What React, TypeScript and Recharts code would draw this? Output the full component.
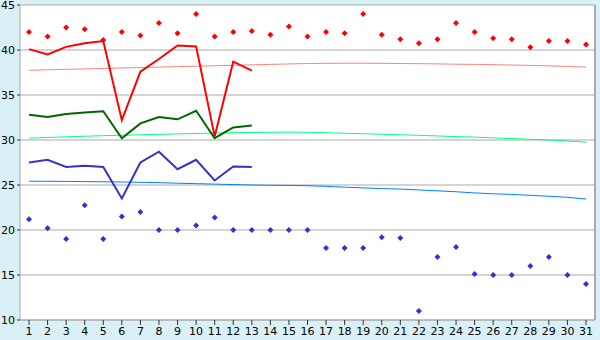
import { ComposedChart, Line, XAxis, YAxis, CartesianGrid } from "recharts";

const dias = Array.from({ length: 31 }, (_, i) => String(i + 1));

const maxPuntos = [42, 41.5, 42.5, 42.3, 41.1, 42, 41.6, 43, 41.85, 44, 41.5, 42, 42.1, 41.7, 42.6, 41.5, 42, 41.85, 44, 41.7, 41.2, 40.75, 41.2, 43, 42, 41.3, 41.2, 40.3, 41, 41, 40.6];
const minPuntos = [21.2, 20.2, 19, 22.75, 19, 21.5, 22, 20, 20, 20.5, 21.4, 20, 20, 20, 20, 20, 18, 18, 18, 19.2, 19.1, 11, 17, 18.1, 15.1, 15, 15, 16, 17, 15, 14];

const maxMes = [40.1, 39.5, 40.35, 40.75, 41, 32.2, 37.6, 39, 40.5, 40.4, 30.4, 38.7, 37.7];
const mediaMes = [32.8, 32.55, 32.9, 33.05, 33.2, 30.2, 31.85, 32.55, 32.3, 33.25, 30.2, 31.4, 31.6];
const minMes = [27.5, 27.8, 27, 27.15, 27, 23.5, 27.5, 28.7, 26.75, 27.8, 25.5, 27.05, 27];

const maxNormal = [37.74, 37.8, 37.85, 37.9, 37.95, 38, 38.05, 38.1, 38.15, 38.2, 38.25, 38.3, 38.35, 38.4, 38.45, 38.5, 38.52, 38.53, 38.53, 38.52, 38.5, 38.48, 38.46, 38.42, 38.4, 38.37, 38.33, 38.29, 38.23, 38.17, 38.1];
const mediaNormal = [30.2, 30.28, 30.35, 30.42, 30.48, 30.53, 30.58, 30.63, 30.68, 30.72, 30.77, 30.81, 30.84, 30.86, 30.87, 30.86, 30.8, 30.75, 30.7, 30.64, 30.58, 30.52, 30.45, 30.38, 30.32, 30.24, 30.16, 30.08, 30, 29.9, 29.75];
const minNormal = [25.42, 25.41, 25.4, 25.38, 25.36, 25.33, 25.3, 25.26, 25.2, 25.15, 25.1, 25.05, 25, 24.97, 24.95, 24.92, 24.85, 24.76, 24.68, 24.6, 24.55, 24.45, 24.35, 24.25, 24.12, 24.02, 23.95, 23.85, 23.75, 23.63, 23.45];

const yTicks = [10, 15, 20, 25, 30, 35, 40, 45];

const datos = dias.map((d, i) => ({
  dia: d,
  maxP: maxPuntos[i],
  minP: minPuntos[i],
  maxM: maxMes[i],
  medM: mediaMes[i],
  minM: minMes[i],
  maxN: maxNormal[i],
  medN: mediaNormal[i],
  minN: minNormal[i],
}));

const rombo = (color: string) => (p: any) => {
  if (p.cx == null || p.cy == null) return <g key={p.index} />;
  const { cx, cy } = p;
  return (
    <path key={p.index}
      d={`M${cx},${cy - 3}L${cx + 3},${cy}L${cx},${cy + 3}L${cx - 3},${cy}Z`}
      fill={color} stroke="none" />
  );
};

const fuente = { fontFamily: "DejaVu Sans", fontSize: 11, fill: "#000" };

export default function App() {
  return (
    <div style={{ position: "absolute", left: 0, top: 0, width: 600, height: 340, background: "#d9f0f7" }}>
      <ComposedChart width={600} height={340} data={datos} margin={{ top: 5, right: 0, bottom: 0, left: 0 }}>
        <CartesianGrid vertical={false} stroke="#aaaaaa" fill="#ffffff" />
        <XAxis dataKey="dia" interval={0} height={20} tick={fuente} tickSize={5} padding={{ left: 9, right: 9 }}
          stroke="#666" axisLine={{ stroke: "#aaaaaa" }} tickLine={{ stroke: "#333" }} />
        <YAxis domain={[10, 45]} ticks={yTicks} width={20} tick={fuente} tickSize={3}
          interval={0} axisLine={{ stroke: "#aaaaaa" }} tickLine={{ stroke: "#333" }} />
        <YAxis yAxisId="der" orientation="right" width={5} tick={false} tickLine={false}
          axisLine={{ stroke: "#aaaaaa", strokeWidth: 2 }} domain={[10, 45]} />
        <Line dataKey="maxN" stroke="#ff8080" strokeWidth={1} dot={false} isAnimationActive={false} />
        <Line dataKey="medN" stroke="#00ff80" strokeWidth={1} dot={false} isAnimationActive={false} />
        <Line dataKey="minN" stroke="#0080ff" strokeWidth={1} dot={false} isAnimationActive={false} />
        <Line dataKey="maxM" stroke="#ff0000" strokeWidth={2} dot={false} isAnimationActive={false} />
        <Line dataKey="medM" stroke="#006600" strokeWidth={2} dot={false} isAnimationActive={false} />
        <Line dataKey="minM" stroke="#3333cc" strokeWidth={2} dot={false} isAnimationActive={false} />
        <Line dataKey="maxP" stroke="none" dot={rombo("#ff0000")} activeDot={false} isAnimationActive={false} />
        <Line dataKey="minP" stroke="none" dot={rombo("#3333cc")} activeDot={false} isAnimationActive={false} />
      </ComposedChart>
    </div>
  );
}
